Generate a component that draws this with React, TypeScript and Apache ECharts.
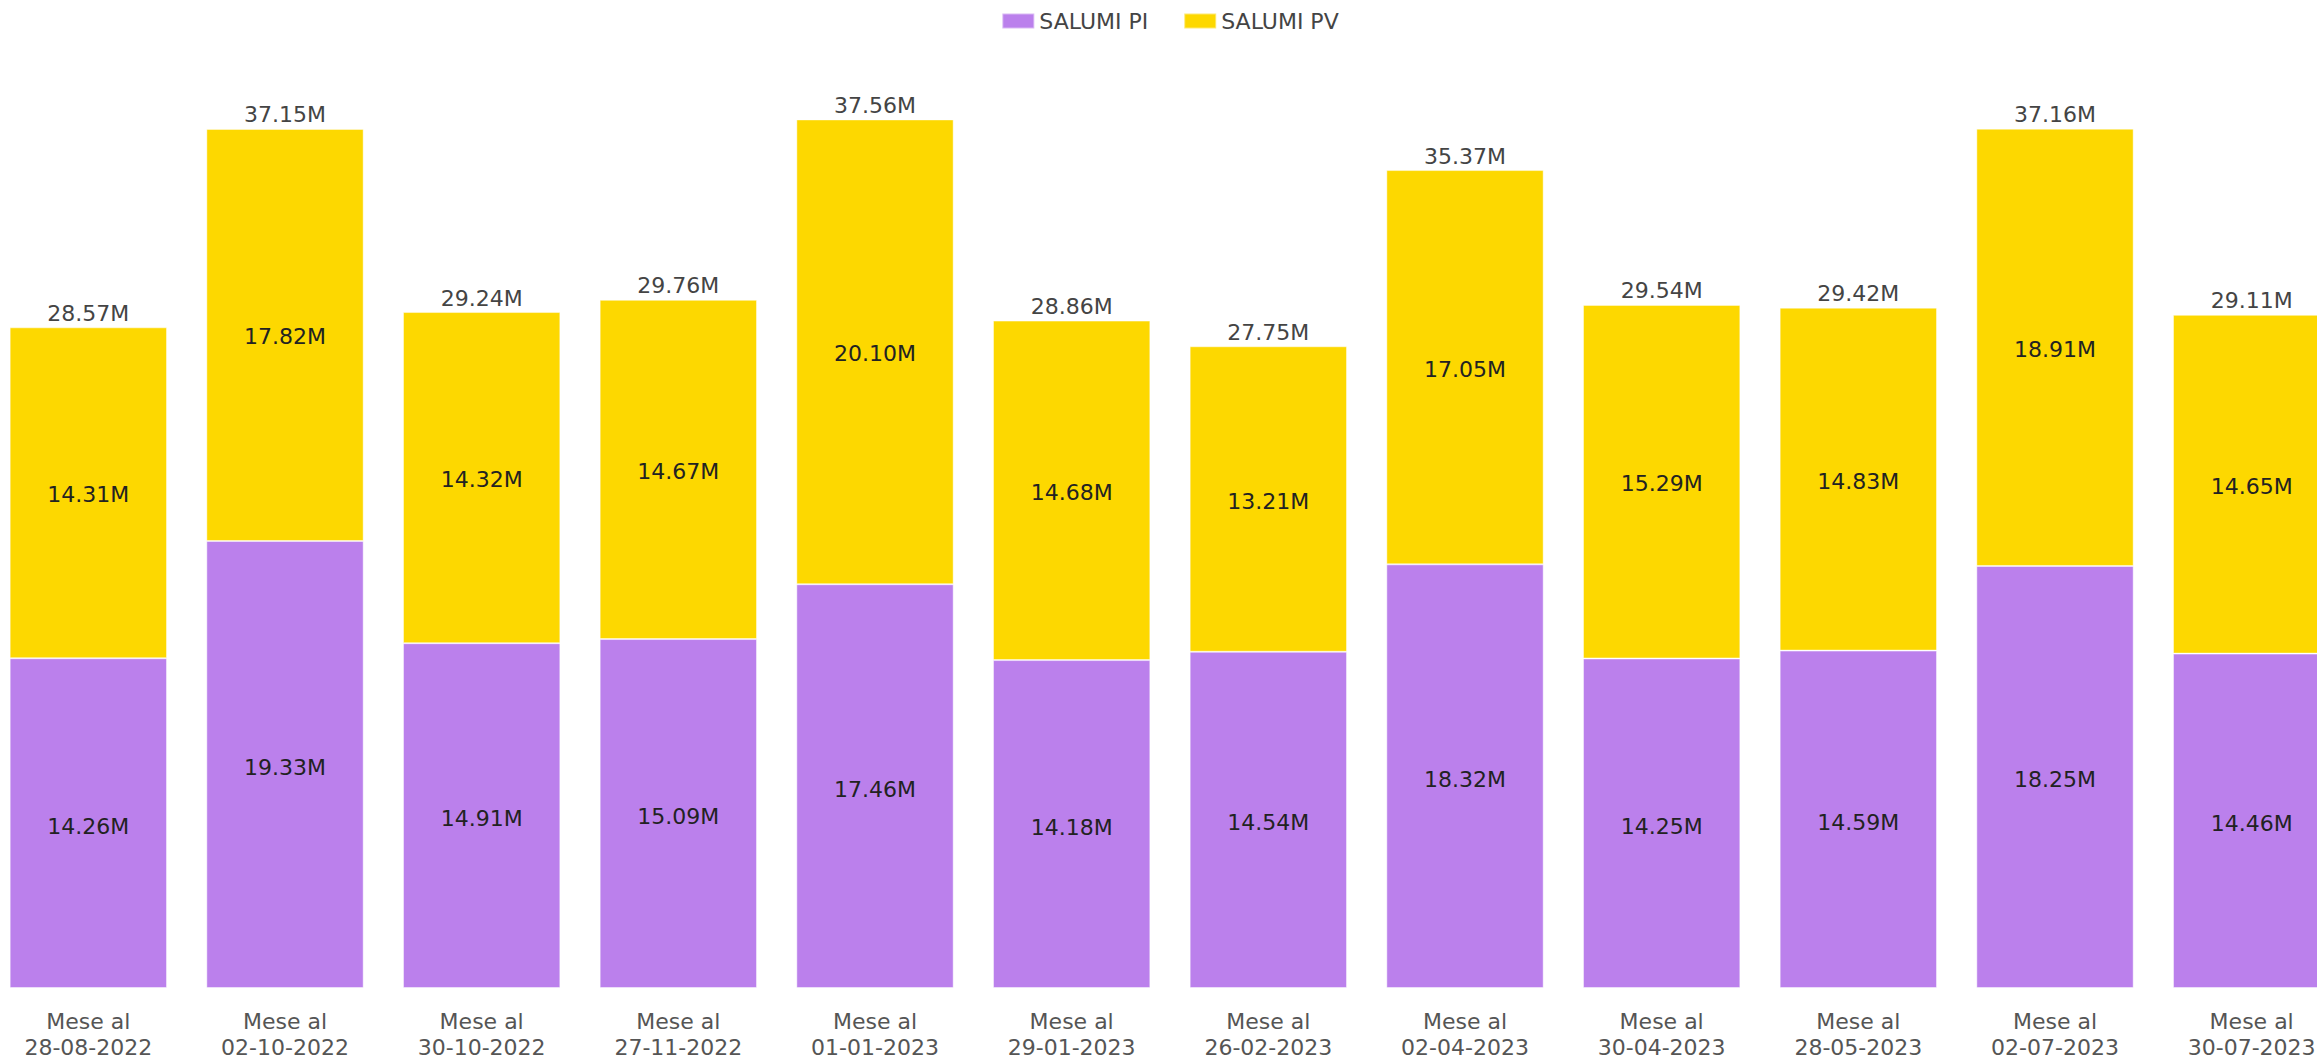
import React, { useEffect, useRef } from "react";
import * as echarts from "echarts";

const categories = [
  "Mese al\n28-08-2022",
  "Mese al\n02-10-2022",
  "Mese al\n30-10-2022",
  "Mese al\n27-11-2022",
  "Mese al\n01-01-2023",
  "Mese al\n29-01-2023",
  "Mese al\n26-02-2023",
  "Mese al\n02-04-2023",
  "Mese al\n30-04-2023",
  "Mese al\n28-05-2023",
  "Mese al\n02-07-2023",
  "Mese al\n30-07-2023",
];

const salumiPI = [14.26, 19.33, 14.91, 15.09, 17.46, 14.18, 14.54, 18.32, 14.25, 14.59, 18.25, 14.46];
const salumiPV = [14.31, 17.82, 14.32, 14.67, 20.1, 14.68, 13.21, 17.05, 15.29, 14.83, 18.91, 14.65];
const totals = [28.57, 37.15, 29.24, 29.76, 37.56, 28.86, 27.75, 35.37, 29.54, 29.42, 37.16, 29.11];

const FONT = "'DejaVu Sans', sans-serif";

export default function App() {
  const ref = useRef<HTMLDivElement>(null);

  useEffect(() => {
    if (!ref.current) return;
    const chart = echarts.init(ref.current, undefined, { renderer: "svg" });
    const fmt = (v: number) => v.toFixed(2) + "M";
    chart.setOption({
      animation: false,
      textStyle: { fontFamily: FONT },
      legend: {
        data: ["SALUMI PI", "SALUMI PV"],
        top: 5,
        left: "center",
        itemWidth: 32,
        itemHeight: 15,
        itemGap: 35,
        icon: "rect",
        textStyle: { fontSize: 22, color: "#444", fontFamily: FONT },
      },
      grid: { left: 0, right: 0, top: 63, bottom: 74, containLabel: false },
      xAxis: {
        type: "category",
        data: categories,
        axisLine: { show: false },
        axisTick: { show: false },
        axisLabel: {
          fontSize: 22,
          color: "#555",
          lineHeight: 26,
          margin: 20,
          interval: 0,
          fontFamily: FONT,
        },
      },
      yAxis: {
        type: "value",
        min: 0,
        max: 40,
        show: false,
        splitLine: { show: false },
      },
      series: [
        {
          name: "SALUMI PI",
          type: "bar",
          stack: "total",
          barCategoryGap: "20%",
          data: salumiPI,
          itemStyle: { color: "#BB80EC", borderColor: "rgba(255,255,255,0.45)", borderWidth: 1 },
          label: {
            show: true,
            position: "inside",
            offset: [0, 3],
            fontSize: 22,
            color: "#222",
            fontFamily: FONT,
            formatter: (p: any) => fmt(p.value),
          },
        },
        {
          name: "SALUMI PV",
          type: "bar",
          stack: "total",
          data: salumiPV,
          itemStyle: { color: "#FDD800", borderColor: "rgba(255,255,255,0.45)", borderWidth: 1 },
          label: {
            show: true,
            position: "inside",
            offset: [0, 2],
            fontSize: 22,
            color: "#222",
            fontFamily: FONT,
            formatter: (p: any) => fmt(p.value),
          },
        },
        {
          name: "Totale",
          type: "bar",
          stack: "total",
          data: totals.map(() => 0),
          itemStyle: { color: "transparent" },
          label: {
            show: true,
            position: "top",
            distance: 3,
            fontSize: 22,
            color: "#444",
            fontFamily: FONT,
            formatter: (p: any) => fmt(totals[p.dataIndex]),
          },
        },
      ],
    });
    return () => chart.dispose();
  }, []);

  return (
    <div
      style={{
        position: "fixed",
        left: 0,
        top: 0,
        width: 2317,
        height: 1062,
        overflow: "hidden",
        background: "#fff",
      }}
    >
      <div
        ref={ref}
        style={{ position: "absolute", left: -10, top: 0, width: 2360, height: 1062 }}
      />
    </div>
  );
}
